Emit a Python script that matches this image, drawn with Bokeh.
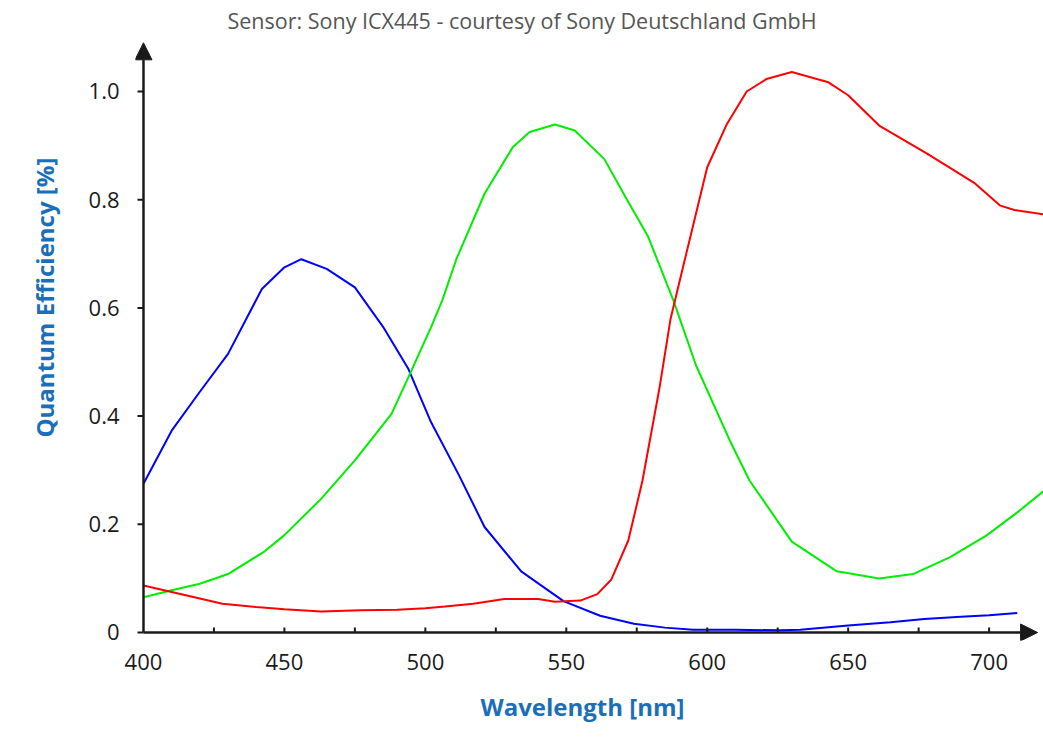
from bokeh.plotting import figure
from bokeh.models import Range1d, FixedTicker, Arrow, NormalHead, Title
from bokeh.embed import file_html
from bokeh.resources import INLINE

# Data (wavelength nm, quantum efficiency)
blue_nm = [400, 410, 420, 430, 442, 450, 456, 465, 475, 485, 494, 502, 512, 521, 534, 549, 562, 574, 585, 595, 610, 626, 633, 650, 665, 677, 690, 700, 710]
blue_qe = [0.275, 0.373, 0.445, 0.515, 0.635, 0.675, 0.690, 0.672, 0.638, 0.565, 0.487, 0.389, 0.290, 0.195, 0.113, 0.058, 0.031, 0.016, 0.009, 0.005, 0.005, 0.004, 0.005, 0.013, 0.019, 0.025, 0.029, 0.032, 0.036]

green_nm = [400, 410, 420, 430, 443, 450, 463, 475, 488, 494, 502, 506, 511, 521, 531, 537, 546, 553, 563.5, 571, 579, 588, 596, 608, 615, 630, 646, 661, 673, 686, 699, 710, 719.5]
green_qe = [0.065, 0.078, 0.090, 0.108, 0.150, 0.180, 0.247, 0.318, 0.404, 0.472, 0.564, 0.614, 0.690, 0.811, 0.897, 0.925, 0.939, 0.928, 0.875, 0.805, 0.732, 0.614, 0.494, 0.355, 0.281, 0.168, 0.113, 0.100, 0.108, 0.139, 0.179, 0.222, 0.262]

red_nm = [400, 410, 420, 428, 440, 450, 463, 477, 490, 500, 507, 517, 528, 540, 546, 555, 561, 566, 572, 577, 583, 587, 592, 600, 607, 614, 621, 630, 643, 650, 661, 678, 695, 704, 709, 719.5]
red_qe = [0.087, 0.075, 0.063, 0.053, 0.047, 0.043, 0.039, 0.041, 0.042, 0.045, 0.048, 0.053, 0.062, 0.062, 0.057, 0.059, 0.071, 0.098, 0.170, 0.280, 0.450, 0.580, 0.688, 0.860, 0.940, 1.000, 1.023, 1.036, 1.017, 0.993, 0.937, 0.885, 0.830, 0.789, 0.781, 0.773]

x_major = [400, 450, 500, 550, 600, 650, 700]
x_minor = [425, 475, 525, 575, 625, 675]
y_ticks = [0, 0.2, 0.4, 0.6, 0.8, 1.0]
y_tick_text = {0: "0", 1: "1.0"}

title_text = "Sensor: Sony ICX445 - courtesy of Sony Deutschland GmbH"
x_label = "Wavelength [nm]"
y_label = "Quantum Efficiency [%]"

FONT = "Open Sans"
AXIS_COLOR = "#1a1a1a"
LABEL_BLUE = "#1a6fb8"

# pixel scales (frame: 909 px wide, 603 px tall)
X0, X1 = 397.17, 719.3
Y0, Y1 = -0.0148, 1.0998
px_x = (X1 - X0) / 909.0
px_y = (Y1 - Y0) / 603.0

p = figure(width=1043, height=740, output_backend="svg", toolbar_location=None,
           x_range=Range1d(X0, X1), y_range=Range1d(Y0, Y1),
           min_border_left=134, min_border_right=0, min_border_top=37, min_border_bottom=100)

p.background_fill_color = "white"
p.border_fill_color = "white"
p.outline_line_color = None
p.xgrid.grid_line_color = None
p.ygrid.grid_line_color = None

p.title.text = title_text
p.title.align = "left"
p.title.offset = 92
p.title.standoff = 6
p.title.text_font = FONT
p.title.text_font_style = "normal"
p.title.text_font_size = "21.5px"
p.title.text_color = "#555555"

p.line(blue_nm, blue_qe, line_color="#0000ff", line_width=2)
p.line(green_nm, green_qe, line_color="#00ee00", line_width=2)
p.line(red_nm, red_qe, line_color="#ff0000", line_width=2)

# X axis (labels only; ticks drawn below at the arrow line)
xa = p.xaxis[0]
xa.ticker = FixedTicker(ticks=x_major, minor_ticks=[])
xa.axis_line_color = None
xa.major_tick_line_color = None
xa.major_tick_in = 0
xa.major_tick_out = 0
xa.minor_tick_line_color = None
xa.major_label_text_font = FONT
xa.major_label_text_font_size = "22px"
xa.major_label_text_color = AXIS_COLOR
xa.major_label_standoff = 13

# Y axis
ya = p.yaxis[0]
ya.ticker = FixedTicker(ticks=y_ticks, minor_ticks=[])
ya.major_label_overrides = y_tick_text
ya.axis_line_color = None
ya.major_tick_line_color = None
ya.major_tick_in = 0
ya.major_tick_out = 0
ya.minor_tick_line_color = None
ya.major_label_text_font = FONT
ya.major_label_text_font_size = "22px"
ya.major_label_text_color = AXIS_COLOR
ya.major_label_standoff = 16

# Axis titles
p.add_layout(Title(text=x_label, align="left", offset=345, standoff=30,
                   text_font=FONT, text_font_style="bold", text_font_size="24px",
                   text_color=LABEL_BLUE), "below")
p.add_layout(Title(text=y_label, align="left", offset=203, standoff=50,
                   text_font=FONT, text_font_style="bold", text_font_size="24px",
                   text_color=LABEL_BLUE), "left")

# Tick marks on the arrow axes
xt = x_major[1:] + x_minor
p.segment(x0=xt, y0=[0] * len(xt), x1=xt, y1=[5 * px_y] * len(xt),
          line_color=AXIS_COLOR, line_width=2)
p.segment(x0=[400 - 6 * px_x] * len(y_ticks), y0=y_ticks, x1=[400] * len(y_ticks), y1=y_ticks,
          line_color=AXIS_COLOR, line_width=2)

# Axis lines with arrowheads
p.add_layout(Arrow(end=NormalHead(size=17, fill_color=AXIS_COLOR, line_color=AXIS_COLOR),
                   x_start=400, y_start=0, x_end=717.2, y_end=0,
                   line_color=AXIS_COLOR, line_width=2.5))
p.add_layout(Arrow(end=NormalHead(size=17, fill_color=AXIS_COLOR, line_color=AXIS_COLOR),
                   x_start=400, y_start=0, x_end=400, y_end=1.09,
                   line_color=AXIS_COLOR, line_width=2.5))

open("out.html", "w").write(file_html(p, INLINE))
